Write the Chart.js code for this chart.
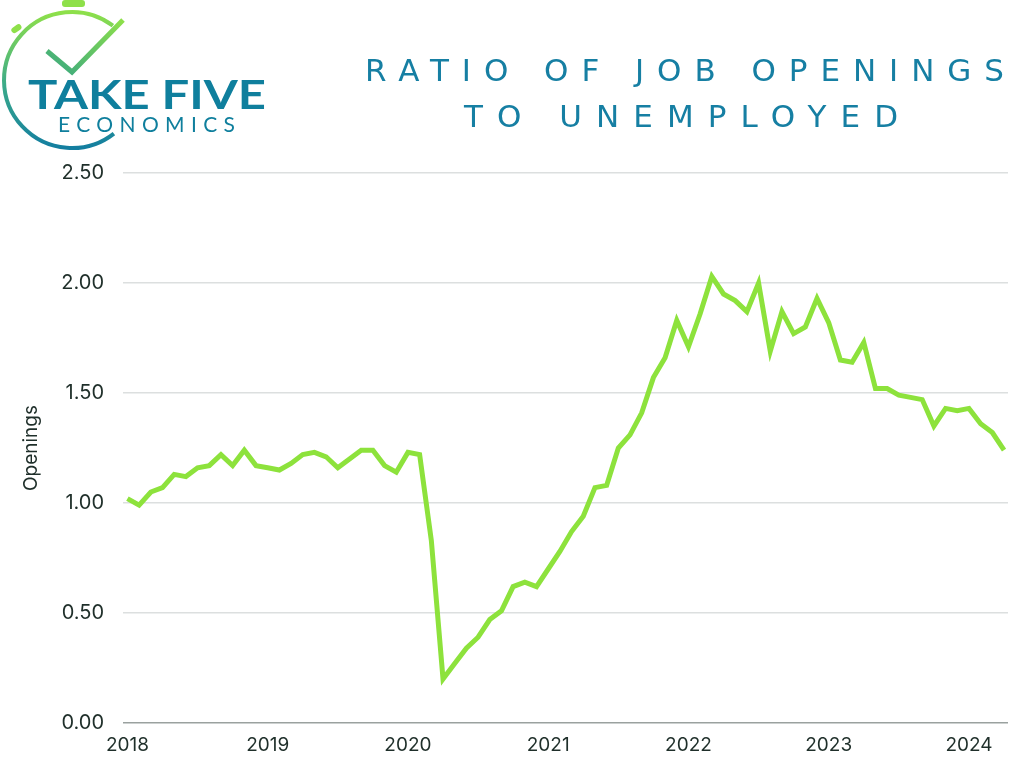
<!DOCTYPE html>
<html>
<head>
<meta charset="utf-8">
<script src="https://cdn.jsdelivr.net/npm/chart.js@4"></script>
<style>
  html, body { margin: 0; padding: 0; background: #ffffff; }
  #wrap { position: relative; width: 1024px; height: 768px; }
  #ratioChart { position: absolute; left: 0; top: 0; }
  #header { position: absolute; left: 0; top: 0; }
</style>
</head>
<body>
<div id="wrap">
  <canvas id="ratioChart" width="1024" height="768"></canvas>
  <svg id="header" width="1024" height="160" xmlns="http://www.w3.org/2000/svg">
    <defs>
      <linearGradient id="ringGrad" x1="0" y1="0" x2="0" y2="1">
        <stop offset="0" stop-color="#8ee04a"/>
        <stop offset="0.55" stop-color="#3aa98a"/>
        <stop offset="1" stop-color="#137ea0"/>
      </linearGradient>
      <linearGradient id="checkGrad" x1="1" y1="0" x2="0" y2="1">
        <stop offset="0" stop-color="#8ee04a"/>
        <stop offset="1" stop-color="#3aa880"/>
      </linearGradient>
    </defs>
    <!-- stopwatch logo -->
    <rect x="62" y="0" width="23" height="7" rx="3" fill="#8ee04a"/>
    <rect x="11" y="26" width="11" height="6" rx="3" fill="#8ee04a" transform="rotate(-35 16 29)"/>
    <path d="M 112.9 25.7 A 68 68 0 1 0 113.9 133.6" fill="none" stroke="url(#ringGrad)" stroke-width="4"/>
    <polyline points="47,51 72,72 123,20" fill="none" stroke="url(#checkGrad)" stroke-width="5"/>
    <text x="28" y="109" font-family="Lato" font-weight="700" font-size="40" fill="#0f7f9d" textLength="238" lengthAdjust="spacingAndGlyphs">TAKE FIVE</text>
    <text x="58" y="132" font-family="Lato" font-weight="400" font-size="21" fill="#0f7f9d" textLength="177" lengthAdjust="spacing">ECONOMICS</text>
    <!-- title -->
    <text x="365" y="80.7" font-family="DejaVu Sans" font-weight="400" font-size="31" fill="#167fa3" textLength="639" lengthAdjust="spacing">RATIO OF JOB OPENINGS</text>
    <text x="464" y="126.7" font-family="DejaVu Sans" font-weight="400" font-size="31" fill="#167fa3" textLength="434" lengthAdjust="spacing">TO UNEMPLOYED</text>
  </svg>
</div>
<script>
// Ratio of job openings to unemployed, monthly Jan 2018 - Apr 2024
const yearTicks = ['2018', '2019', '2020', '2021', '2022', '2023', '2024'];

const ratio = [
    1.02, 0.99, 1.05, 1.07, 1.13, 1.12, 1.16, 1.17, 1.22, 1.17, 1.24, 1.17,
    1.16, 1.15, 1.18, 1.22, 1.23, 1.21, 1.16, 1.20, 1.24, 1.24, 1.17, 1.14,
    1.23, 1.22, 0.83, 0.20, 0.27, 0.34, 0.39, 0.47, 0.51, 0.62, 0.64, 0.62,
    0.70, 0.78, 0.87, 0.94, 1.07, 1.08, 1.25, 1.31, 1.41, 1.57, 1.66, 1.83,
    1.71, 1.86, 2.03, 1.95, 1.92, 1.87, 2.00, 1.69, 1.87, 1.77, 1.80, 1.93,
    1.82, 1.65, 1.64, 1.73, 1.52, 1.52, 1.49, 1.48, 1.47, 1.35, 1.43, 1.42,
    1.43, 1.36, 1.32, 1.24
];

const yTicks = [0, 0.5, 1, 1.5, 2, 2.5];

const textColor = '#1f2f2a';
const lineColor = '#8de23c';

// month labels for the points (x = month index from Jan 2018)
const monthLabels = ratio.map((v, i) => yearTicks[Math.floor(i / 12)] + '-' + String(i % 12 + 1).padStart(2, '0'));
const points = ratio.map((v, i) => ({ x: i, y: v }));

const ctx = document.getElementById('ratioChart');

new Chart(ctx.getContext('2d'), {
    type: 'line',
    data: {
        datasets: [{
            label: 'Openings',
            data: points,
            borderColor: lineColor,
            backgroundColor: lineColor,
            borderWidth: 5,
            pointRadius: 0,
            tension: 0,
            borderJoinStyle: 'miter'
        }]
    },
    options: {
        responsive: false,
        animation: false,
        layout: {
            padding: { top: 173, right: 16, left: 0, bottom: 0 }
        },
        plugins: {
            legend: { display: false },
            title: { display: false },
            tooltip: {
                callbacks: {
                    title: items => monthLabels[items[0].parsed.x]
                }
            }
        },
        scales: {
            x: {
                type: 'linear',
                min: -0.38,
                max: 75.34,
                afterBuildTicks: scale => {
                    scale.ticks = yearTicks.map((y, i) => ({ value: i * 12 }));
                },
                afterFit: scale => { scale.height = 45; },
                grid: { display: false, drawTicks: false },
                border: { display: false },
                ticks: {
                    color: textColor,
                    padding: 11,
                    maxRotation: 0,
                    autoSkip: false,
                    font: { family: 'Inter', size: 19 },
                    callback: value => yearTicks[value / 12]
                }
            },
            y: {
                min: 0,
                max: 2.5,
                afterBuildTicks: scale => {
                    scale.ticks = yTicks.map(v => ({ value: v }));
                },
                afterFit: scale => { scale.width = 123; },
                grid: {
                    drawTicks: false,
                    lineWidth: 1.5,
                    color: c => (c.tick && c.tick.value === 0) ? '#9aa19f' : '#dcdfdf'
                },
                border: { display: false },
                ticks: {
                    color: textColor,
                    padding: 19,
                    font: { family: 'Inter', size: 20 },
                    callback: value => value.toFixed(2)
                },
                title: {
                    display: true,
                    text: 'Openings',
                    color: textColor,
                    font: { family: 'Inter', size: 19 },
                    padding: { top: 20, bottom: 0 }
                }
            }
        }
    }
});
</script>
</body>
</html>
